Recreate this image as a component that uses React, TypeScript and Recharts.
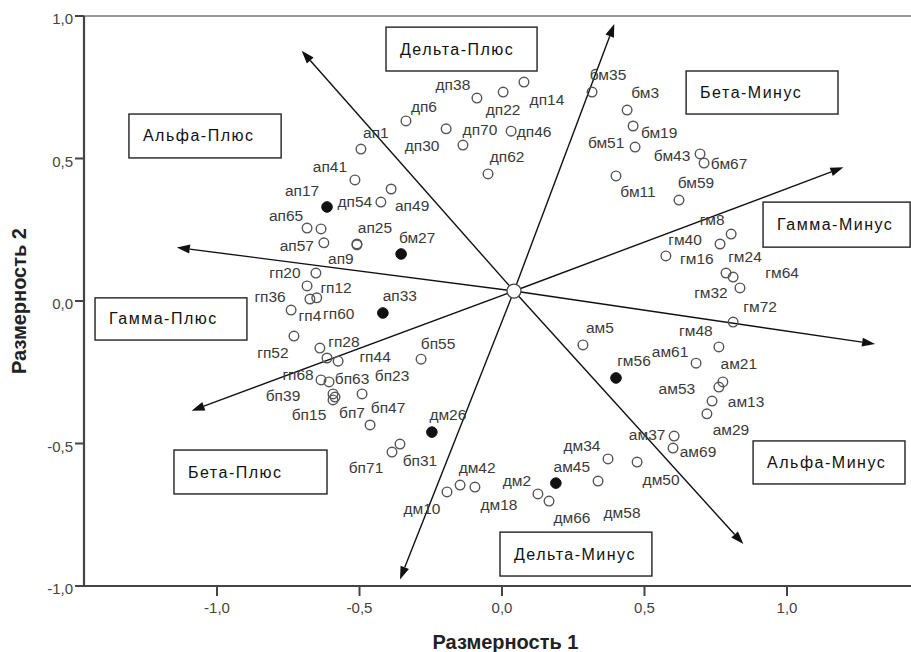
import React from 'react';
import { ScatterChart, Scatter, XAxis, YAxis, ReferenceLine, ReferenceArea } from 'recharts';

const W = 911;
const H = 652;
const FONT = '"Liberation Sans", Arial, sans-serif';

// ---- data ----
const alphaPlus = [
  { name: 'ап1', x: -0.495, y: 0.533 },
  { name: 'ап41', x: -0.516, y: 0.425 },
  { name: 'ап49', x: -0.389, y: 0.393 },
  { name: 'ап65', x: -0.684, y: 0.256 },
  { name: '', x: -0.635, y: 0.253 },
  { name: 'ап57', x: -0.625, y: 0.204 },
  { name: 'ап25', x: -0.509, y: 0.2 },
  { name: 'ап9', x: -0.509, y: 0.197 },
];
const deltaPlus = [
  { name: 'дп54', x: -0.425, y: 0.347 },
  { name: 'дп38', x: -0.088, y: 0.712 },
  { name: 'дп22', x: 0.004, y: 0.733 },
  { name: 'дп14', x: 0.077, y: 0.768 },
  { name: 'дп6', x: -0.337, y: 0.632 },
  { name: 'дп30', x: -0.196, y: 0.604 },
  { name: 'дп70', x: -0.137, y: 0.547 },
  { name: 'дп46', x: 0.032, y: 0.596 },
  { name: 'дп62', x: -0.049, y: 0.446 },
];
const gammaPlus = [
  { name: 'гп20', x: -0.653, y: 0.098 },
  { name: 'гп12', x: -0.684, y: 0.053 },
  { name: 'гп4', x: -0.674, y: 0.007 },
  { name: 'гп60', x: -0.65, y: 0.011 },
  { name: 'гп36', x: -0.74, y: -0.032 },
  { name: 'гп52', x: -0.73, y: -0.123 },
  { name: 'гп28', x: -0.639, y: -0.165 },
  { name: '', x: -0.614, y: -0.2 },
  { name: 'гп44', x: -0.575, y: -0.211 },
  { name: 'гп68', x: -0.635, y: -0.277 },
];
const betaPlus = [
  { name: 'бп63', x: -0.607, y: -0.284 },
  { name: 'бп23', x: -0.491, y: -0.326 },
  { name: 'бп39', x: -0.593, y: -0.326 },
  { name: 'бп15', x: -0.593, y: -0.347 },
  { name: 'бп7', x: -0.586, y: -0.337 },
  { name: 'бп47', x: -0.463, y: -0.435 },
  { name: 'бп55', x: -0.284, y: -0.204 },
  { name: 'бп31', x: -0.358, y: -0.502 },
  { name: 'бп71', x: -0.386, y: -0.53 },
];
const betaMinus = [
  { name: 'бм35', x: 0.316, y: 0.733 },
  { name: 'бм3', x: 0.439, y: 0.67 },
  { name: 'бм19', x: 0.46, y: 0.614 },
  { name: 'бм51', x: 0.467, y: 0.54 },
  { name: 'бм43', x: 0.695, y: 0.516 },
  { name: 'бм67', x: 0.709, y: 0.484 },
  { name: 'бм11', x: 0.4, y: 0.439 },
  { name: 'бм59', x: 0.621, y: 0.354 },
];
const gammaMinus = [
  { name: 'гм8', x: 0.804, y: 0.235 },
  { name: 'гм40', x: 0.765, y: 0.2 },
  { name: 'гм16', x: 0.575, y: 0.158 },
  { name: 'гм24', x: 0.786, y: 0.098 },
  { name: 'гм64', x: 0.811, y: 0.084 },
  { name: 'гм32', x: 0.835, y: 0.046 },
  { name: 'гм72', x: 0.811, y: -0.074 },
  { name: 'гм48', x: 0.761, y: -0.161 },
];
const alphaMinus = [
  { name: 'ам5', x: 0.284, y: -0.154 },
  { name: 'ам61', x: 0.681, y: -0.218 },
  { name: 'ам21', x: 0.775, y: -0.284 },
  { name: 'ам53', x: 0.761, y: -0.302 },
  { name: 'ам13', x: 0.737, y: -0.351 },
  { name: 'ам29', x: 0.719, y: -0.396 },
  { name: 'ам37', x: 0.604, y: -0.474 },
  { name: 'ам69', x: 0.6, y: -0.516 },
];
const deltaMinus = [
  { name: 'дм34', x: 0.372, y: -0.554 },
  { name: 'дм50', x: 0.474, y: -0.565 },
  { name: 'дм58', x: 0.337, y: -0.632 },
  { name: 'дм10', x: -0.193, y: -0.67 },
  { name: 'дм42', x: -0.147, y: -0.646 },
  { name: 'дм18', x: -0.095, y: -0.653 },
  { name: 'дм2', x: 0.126, y: -0.677 },
  { name: 'дм66', x: 0.165, y: -0.702 },
];
const filledPoints = [
  { name: 'ап17', x: -0.614, y: 0.33 },
  { name: 'бм27', x: -0.354, y: 0.165 },
  { name: 'ап33', x: -0.418, y: -0.042 },
  { name: 'дм26', x: -0.246, y: -0.46 },
  { name: 'гм56', x: 0.4, y: -0.27 },
  { name: 'ам45', x: 0.189, y: -0.639 },
];
const centroid = [{ name: 'center', x: 0.042, y: 0.035 }];
const arrowTips = [
  { x: -0.703, y: 0.878 },
  { x: 0.394, y: 0.972 },
  { x: 1.198, y: 0.469 },
  { x: 1.309, y: -0.151 },
  { x: 0.847, y: -0.853 },
  { x: -0.358, y: -0.977 },
  { x: -1.089, y: -0.385 },
  { x: -1.141, y: 0.188 },
];
const regionNames = ['Дельта-Плюс', 'Альфа-Плюс', 'Бета-Минус', 'Гамма-Минус', 'Гамма-Плюс', 'Бета-Плюс', 'Дельта-Минус', 'Альфа-Минус'];
const xTicks = [-1, -0.5, 0, 0.5, 1];
const yTicks = [-1, -0.5, 0, 0.5, 1];

// ---- layout (annotation placement, label offsets) ----
const regionBoxes = [
  { x1: -0.407, x2: 0.123, y1: 0.807, y2: 0.961 },
  { x1: -1.309, x2: -0.775, y1: 0.502, y2: 0.656 },
  { x1: 0.646, x2: 1.179, y1: 0.656, y2: 0.807 },
  { x1: 0.916, x2: 1.432, y1: 0.189, y2: 0.347 },
  { x1: -1.428, x2: -0.895, y1: -0.137, y2: 0.011 },
  { x1: -1.151, x2: -0.614, y1: -0.677, y2: -0.523 },
  { x1: -0.007, x2: 0.526, y1: -0.965, y2: -0.811 },
  { x1: 0.881, x2: 1.414, y1: -0.642, y2: -0.491 },
];
const labelOffsets: Record<string, [number, number]> = {
  'ап1': [15, -17], 'ап41': [-25, -13], 'ап17': [-25, -16], 'дп54': [-26, -1], 'ап49': [21, 17],
  'ап65': [-21, -13], 'ап57': [-27, 3], 'ап25': [18, -17], 'ап9': [-16, 14], 'бм27': [16, -16], 'ап33': [17, -17],
  'гп20': [-31, -1], 'гп12': [29, 2], 'гп4': [0, 16], 'гп60': [22, 16], 'гп36': [-21, -14], 'гп52': [-21, 16],
  'гп28': [24, -7], 'гп44': [37, -5], 'гп68': [-23, -5], 'бп63': [23, -3], 'бп23': [30, -18], 'бп39': [-50, 2],
  'бп15': [-24, 15], 'бп7': [17, 15], 'бп47': [18, -17], 'бп55': [17, -16], 'бп31': [20, 16], 'бп71': [-26, 15],
  'дм26': [16, -18],
  'дп38': [-24, -14], 'дп22': [0, 17], 'дп14': [23, 17], 'дп6': [18, -14], 'дп30': [-24, 17], 'дп70': [17, -16],
  'дп46': [23, 0], 'дп62': [19, -17],
  'бм35': [16, -18], 'бм3': [18, -18], 'бм19': [26, 6], 'бм51': [-29, -5], 'бм43': [-28, 2], 'бм67': [25, 0],
  'бм11': [22, 16], 'бм59': [17, -18],
  'гм8': [-19, -15], 'гм40': [-35, -5], 'гм16': [31, 3], 'гм24': [19, -17], 'гм64': [49, -5], 'гм32': [-29, 5],
  'гм72': [27, -16], 'гм48': [-23, -16],
  'ам5': [17, -17], 'ам61': [-26, -12], 'гм56': [18, -17], 'ам21': [16, -18], 'ам53': [-42, 1], 'ам13': [34, 0],
  'ам29': [24, 16], 'ам37': [-27, -2], 'ам69': [25, 3],
  'дм34': [-26, -13], 'дм50': [24, 17], 'ам45': [16, -17], 'дм58': [24, 31], 'дм10': [-25, 17], 'дм42': [17, -18],
  'дм18': [24, 17], 'дм2': [-21, -13], 'дм66': [23, 16],
};

const openPoints = [
  ...alphaPlus, ...deltaPlus, ...gammaPlus, ...betaPlus,
  ...betaMinus, ...gammaMinus, ...alphaMinus, ...deltaMinus,
];

const fmt = (v: number) => v.toFixed(1).replace('.', ',');

const PointLabel = ({ cx, cy, name }: any) => {
  if (!name) return null;
  const off = labelOffsets[name] || [16, -16];
  return (
    <text x={cx + off[0]} y={cy + off[1]} textAnchor="middle" dominantBaseline="central"
      fontSize={15.5} fill="#3a3a3a" fontFamily={FONT}>{name}</text>
  );
};

const OpenShape = (p: any) => (
  <g>
    <circle cx={p.cx} cy={p.cy} r={4.8} fill="#fff" fillOpacity={0} stroke="#555" strokeWidth={1.4} />
    <PointLabel cx={p.cx} cy={p.cy} name={p.payload?.name} />
  </g>
);

const FilledShape = (p: any) => (
  <g>
    <circle cx={p.cx} cy={p.cy} r={5.3} fill="#111" stroke="#111" strokeWidth={1} />
    <PointLabel cx={p.cx} cy={p.cy} name={p.payload?.name} />
  </g>
);

const CenterShape = (p: any) => (
  <circle cx={p.cx} cy={p.cy} r={7} fill="#fff" stroke="#444" strokeWidth={1.3} />
);

const ArrowShape = (p: any) => {
  const { x1, y1, x2, y2 } = p;
  if ([x1, y1, x2, y2].some((v) => typeof v !== 'number' || isNaN(v))) return null;
  const ang = Math.atan2(y2 - y1, x2 - x1);
  const len = 13;
  const hw = 4.5;
  const bx = x2 - len * Math.cos(ang);
  const by = y2 - len * Math.sin(ang);
  const px = -Math.sin(ang) * hw;
  const py = Math.cos(ang) * hw;
  return (
    <g>
      <line x1={x1} y1={y1} x2={bx} y2={by} stroke="#111" strokeWidth={1.4} />
      <polygon points={`${x2},${y2} ${bx + px},${by + py} ${bx - px},${by - py}`} fill="#111" />
    </g>
  );
};

const makeBoxShape = (text: string) => (p: any) => {
  const { x, y, width, height } = p;
  if (typeof x !== 'number') return null;
  return (
    <g>
      <rect x={x} y={y} width={width} height={height} fill="#fff" stroke="#222" strokeWidth={1.4} />
      <text x={x + 14} y={y + height / 2} dominantBaseline="central" fontSize={16}
        letterSpacing={1.5} fill="#111" fontFamily={FONT}>{text}</text>
    </g>
  );
};

export default function App() {
  return (
    <div style={{ position: 'absolute', left: 0, top: 0, width: W, height: H, background: '#fff', fontFamily: FONT }}>
      <ScatterChart width={W} height={H} margin={{ top: 16, right: 0, bottom: 0, left: 0 }}>
        <XAxis
          type="number" dataKey="x" domain={[-1.4667, 1.4351]} ticks={xTicks} tickFormatter={fmt}
          allowDataOverflow height={66} tickSize={10} interval={0}
          axisLine={{ stroke: '#444', strokeWidth: 2.2 }} tickLine={{ stroke: '#444', strokeWidth: 2 }}
          tick={{ fill: '#444', fontSize: 15, fontFamily: FONT, dy: 4 }}
          label={{ value: 'Размерность 1', position: 'insideBottom', offset: 3, dx: 8, fontSize: 20, fontWeight: 'bold', fill: '#222', fontFamily: FONT }}
        />
        <YAxis
          type="number" dataKey="y" domain={[-1, 1]} ticks={yTicks} tickFormatter={fmt}
          allowDataOverflow width={84} tickSize={9} interval={0}
          axisLine={{ stroke: '#444', strokeWidth: 2.2 }} tickLine={{ stroke: '#444', strokeWidth: 2 }}
          tick={{ fill: '#444', fontSize: 15, fontFamily: FONT, dy: 3 }}
          label={{ value: 'Размерность 2', angle: -90, position: 'insideLeft', offset: 19, textAnchor: 'middle', style: { textAnchor: 'middle' }, fontSize: 20, fontWeight: 'bold', fill: '#222', fontFamily: FONT }}
        />
        <ReferenceLine y={1} stroke="#999" strokeWidth={2} />
        {regionBoxes.map((b, i) => (
          <ReferenceArea key={'box' + i} x1={b.x1} x2={b.x2} y1={b.y1} y2={b.y2} ifOverflow="visible"
            shape={makeBoxShape(regionNames[i])} />
        ))}
        {arrowTips.map((t, i) => (
          <ReferenceLine key={'ar' + i} segment={[{ x: centroid[0].x, y: centroid[0].y }, { x: t.x, y: t.y }]}
            ifOverflow="visible" shape={ArrowShape} />
        ))}
        <Scatter data={openPoints} shape={OpenShape} isAnimationActive={false} />
        <Scatter data={filledPoints} shape={FilledShape} isAnimationActive={false} />
        <Scatter data={centroid} shape={CenterShape} isAnimationActive={false} />
      </ScatterChart>
    </div>
  );
}
